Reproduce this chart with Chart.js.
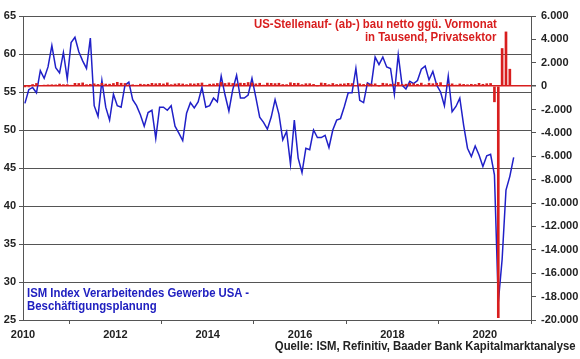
<!DOCTYPE html>
<html>
<head>
<meta charset="utf-8">
<script src="https://cdn.jsdelivr.net/npm/chart.js@4/dist/chart.umd.min.js"></script>
<style>
  html, body { margin: 0; padding: 0; background: #fff; }
  #wrap { position: relative; width: 580px; height: 359px; overflow: hidden; }
  canvas { position: absolute; left: 0; top: 0; }
  .t { position: absolute; white-space: nowrap; font-family: "Liberation Sans", Arial, sans-serif;
       font-weight: bold; font-size: 12px; line-height: 12px; }
  .red { color: #d81e1e; }
  .blue { color: #2020c0; }
  .blk { color: #222; }
</style>
</head>
<body>
<div id="wrap">
  <canvas id="c" width="580" height="359"></canvas>
  <div class="t red" id="r1">US-Stellenauf- (ab-) bau netto ggü. Vormonat</div>
  <div class="t red" id="r2">in Tausend, Privatsektor</div>
  <div class="t blue" id="b1">ISM Index Verarbeitendes Gewerbe USA -</div>
  <div class="t blue" id="b2">Beschäftigungsplanung</div>
  <div class="t blk" id="src">Quelle: ISM, Refinitiv, Baader Bank Kapitalmarktanalyse</div>
</div>
<script>
// ---- data ----
const startYear = 2010;           // first month: Jan 2010
const xTickYears = [2010, 2012, 2014, 2016, 2018, 2020];

// ISM Manufacturing employment index (monthly, Jan 2010 - Aug 2020)
const ism2010 = [53.5, 55.3, 55.6, 54.9, 57.8, 56.8, 58.3, 61.1, 58.2, 57.5, 60.2, 56.7];
const ism2011 = [61.5, 62.2, 60.3, 59.1, 58.1, 62.1, 53.2, 51.8, 56.5, 53.0, 51.3, 54.7];
const ism2012 = [53.2, 53.0, 55.9, 56.3, 54.0, 53.2, 52.0, 50.5, 52.3, 52.6, 48.9, 53.0];
const ism2013 = [53.0, 52.6, 53.2, 50.5, 49.6, 48.6, 52.2, 53.6, 52.9, 53.7, 55.6, 53.0];
const ism2014 = [53.2, 54.2, 53.7, 57.1, 54.6, 52.5, 55.3, 57.2, 54.2, 54.2, 54.6, 56.8];
const ism2015 = [54.3, 51.7, 51.0, 50.1, 51.7, 54.0, 52.1, 48.7, 49.8, 45.5, 51.3, 46.3];
const ism2016 = [44.4, 47.6, 47.4, 50.0, 49.0, 49.0, 49.3, 47.7, 50.0, 51.3, 51.5, 53.1];
const ism2017 = [54.9, 54.9, 58.1, 53.9, 53.6, 56.2, 55.9, 59.6, 58.6, 59.6, 58.3, 58.1];
const ism2018 = [54.7, 59.9, 55.9, 55.4, 56.4, 56.1, 56.5, 58.0, 58.4, 56.6, 57.7, 55.9];
const ism2019 = [55.0, 53.2, 57.1, 52.4, 53.1, 54.2, 50.6, 47.6, 46.5, 47.9, 46.7, 45.2];
const ism2020 = [46.6, 46.8, 44.1, 27.3, 33.0, 42.1, 43.9, 46.4];

// Private payroll change vs. previous month, thousands (Jan 2010 - Jul 2020)
const pay2010 = [-20, -40, 140, 230, 50, 90, 110, 120, 110, 180, 130, 130];
const pay2011 = [80, 240, 230, 280, 130, 160, 200, 150, 240, 180, 170, 230];
const pay2012 = [330, 250, 230, 110, 120, 80, 170, 140, 160, 240, 210, 230];
const pay2013 = [190, 280, 130, 190, 220, 190, 130, 210, 190, 230, 270, 80];
const pay2014 = [170, 190, 230, 320, 230, 280, 230, 200, 260, 240, 310, 270];
const pay2015 = [200, 250, 90, 260, 240, 220, 250, 140, 130, 290, 240, 250];
const pay2016 = [130, 210, 210, 150, 20, 270, 240, 130, 230, 140, 180, 200];
const pay2017 = [240, 220, 70, 200, 150, 190, 170, 200, 0, 250, 210, 170];
const pay2018 = [170, 320, 150, 170, 240, 210, 160, 260, 110, 250, 210, 250];
const pay2019 = [300, 20, 170, 200, 90, 190, 150, 120, 160, 140, 240, 160];
const pay2020 = [210, 230, -1340, -19800, 3220, 4640, 1450];

const ism = [].concat(ism2010, ism2011, ism2012, ism2013, ism2014, ism2015, ism2016, ism2017, ism2018, ism2019, ism2020);
const payrolls = [].concat(pay2010, pay2011, pay2012, pay2013, pay2014, pay2015, pay2016, pay2017, pay2018, pay2019, pay2020);

const monthX = i => startYear + (i + 0.5) / 12;
const deFmt = v => {
  const s = Math.abs(v).toFixed(0).replace(/\B(?=(\d{3})+(?!\d))/g, '.');
  return (v < 0 ? '-' : '') + s;
};

const RED = '#d81e1e';
const BLUE = '#2020c8';
const GRID = '#555555';
const tickFont = { family: '"Liberation Sans", Arial, sans-serif', size: 11, weight: 'bold' };

const chart = new Chart(document.getElementById('c'), {
  type: 'bar',
  data: {
    datasets: [
      {
        type: 'bar',
        data: payrolls.map((v, i) => ({ x: monthX(i), y: v })),
        yAxisID: 'y2',
        backgroundColor: RED,
        barThickness: 2,
        order: 0
      },
      {
        type: 'line',
        data: ism.map((v, i) => ({ x: monthX(i), y: v })),
        yAxisID: 'y',
        borderColor: BLUE,
        borderWidth: 1.5,
        pointRadius: 0,
        tension: 0,
        order: 1
      }
    ]
  },
  options: {
    responsive: false,
    animation: false,
    devicePixelRatio: 1,
    layout: { padding: { top: 16, left: 0, right: 0, bottom: 0 } },
    plugins: { legend: { display: false }, tooltip: { enabled: false } },
    scales: {
      x: {
        type: 'linear',
        min: 2010,
        max: 2021,
        offset: false,
        afterBuildTicks: s => { s.ticks = xTickYears.map(v => ({ value: v })); },
        ticks: { font: tickFont, color: '#222', padding: 4, maxRotation: 0, autoSkip: false,
                 callback: v => String(v) },
        grid: { drawOnChartArea: false, tickLength: 4, color: GRID },
        border: { color: GRID },
        afterFit: s => { s.height = 39; }
      },
      y: {
        position: 'left',
        min: 25,
        max: 65,
        ticks: { stepSize: 5, font: tickFont, color: '#222', padding: 3 },
        grid: { color: GRID, tickLength: 4 },
        border: { color: GRID },
        afterFit: s => { s.width = 23; }
      },
      y2: {
        position: 'right',
        min: -20000,
        max: 6000,
        ticks: { stepSize: 2000, font: tickFont, color: '#222', padding: 5, callback: v => deFmt(v) },
        grid: {
          drawOnChartArea: true,
          color: c => (c.tick && c.tick.value === 0) ? RED : 'rgba(0,0,0,0)',
          lineWidth: c => (c.tick && c.tick.value === 0) ? 1.5 : 1,
          tickColor: GRID,
          tickLength: 5
        },
        border: { color: GRID },
        afterFit: s => { s.width = 49; }
      }
    }
  }
});

// ---- text annotations (HTML), fitted to reference widths ----
function place(id, opts) {
  const el = document.getElementById(id);
  const w = el.offsetWidth;
  const k = opts.width / w;
  el.style.top = (opts.cy - 7) + 'px';
  if (opts.right !== undefined) {
    el.style.left = (opts.right - w) + 'px';
    el.style.transformOrigin = 'right center';
  } else {
    el.style.left = opts.left + 'px';
    el.style.transformOrigin = 'left center';
  }
  el.style.transform = 'scaleX(' + k.toFixed(3) + ')';
}
place('r1', { right: 497, cy: 25, width: 243 });
place('r2', { right: 497, cy: 37.5, width: 132 });
place('b1', { left: 27, cy: 294, width: 222 });
place('b2', { left: 27, cy: 306.5, width: 130 });
place('src', { right: 576, cy: 347, width: 301 });
</script>
</body>
</html>
